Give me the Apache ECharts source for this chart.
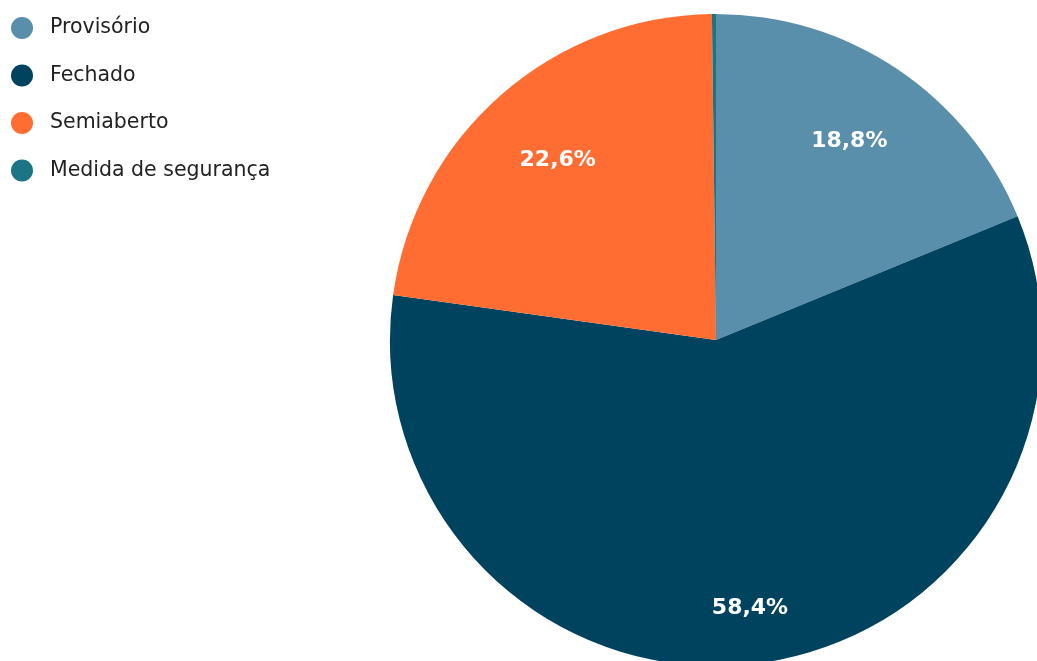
<!DOCTYPE html>
<html>
<head>
<meta charset="utf-8">
<script src="https://cdn.jsdelivr.net/npm/echarts@6/dist/echarts.min.js"></script>
<style>
html,body{margin:0;padding:0;background:#fff;}
#chart{width:1037px;height:661px;}
</style>
</head>
<body>
<div id="chart"></div>
<script>
const categories = ['Provisório', 'Fechado', 'Semiaberto', 'Medida de segurança'];
const values = [18.8, 58.4, 22.6, 0.2];
const colors = ['#5a8fac', '#00435f', '#ff6d33', '#1b7585'];
const labelTexts = ['18,8%', '58,4%', '22,6%', ''];

const chart = echarts.init(document.getElementById('chart'));
const center = [716, 340];
const R = 326;

const pieData = categories.map((c, i) => ({ name: c, value: values[i], itemStyle: { color: colors[i] } }));
const labelData = categories.map((c, i) => {
  const item = { name: c, value: values[i], label: { formatter: labelTexts[i] } };
  if (i === 1) item.label.offset = [4, 31];
  return item;
});

chart.setOption({
  animation: false,
  legend: {
    orient: 'vertical',
    left: 6,
    top: 12,
    itemWidth: 22,
    itemHeight: 22,
    itemGap: 25.5,
    icon: 'circle',
    data: categories,
    textStyle: { fontFamily: 'DejaVu Sans, sans-serif', fontSize: 20.5, color: '#222', padding: [0, 0, 0, 12] }
  },
  series: [
    {
      type: 'pie',
      center: center,
      radius: [0, R],
      startAngle: 90,
      clockwise: true,
      avoidLabelOverlap: false,
      silent: true,
      label: { show: false },
      labelLine: { show: false },
      itemStyle: { borderWidth: 0 },
      data: pieData
    },
    {
      type: 'pie',
      center: center,
      radius: [0, R * 1.45],
      startAngle: 90,
      clockwise: true,
      avoidLabelOverlap: false,
      silent: true,
      legendHoverLink: false,
      itemStyle: { color: 'rgba(0,0,0,0)', borderWidth: 0 },
      label: {
        show: true,
        position: 'inside',
        color: '#fff',
        fontFamily: 'DejaVu Sans, sans-serif',
        fontWeight: 'bold',
        fontSize: 22
      },
      labelLine: { show: false },
      data: labelData
    }
  ]
});
</script>
</body>
</html>
